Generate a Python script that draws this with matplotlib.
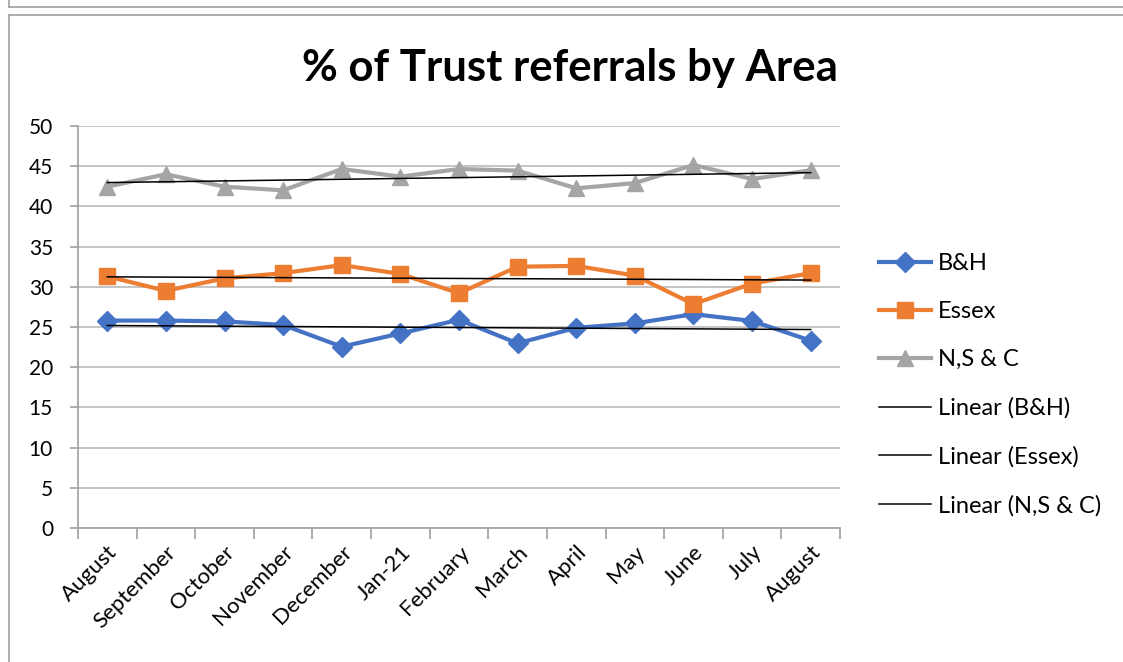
import numpy as np
import matplotlib
matplotlib.use("Agg")
import matplotlib.pyplot as plt
from matplotlib.lines import Line2D

plt.rcParams['font.family'] = ['Lato', 'DejaVu Sans']

months = ["August", "September", "October", "November", "December", "Jan-21",
          "February", "March", "April", "May", "June", "July", "August"]
bh = [25.8, 25.8, 25.7, 25.25, 22.55, 24.2, 25.9, 22.97, 24.9, 25.45, 26.6, 25.75, 23.3]
essex = [31.3, 29.5, 31.05, 31.7, 32.7, 31.6, 29.2, 32.5, 32.6, 31.4, 27.85, 30.4, 31.7]
nsc = [42.45, 44.0, 42.45, 42.0, 44.65, 43.7, 44.65, 44.45, 42.25, 42.9, 45.15, 43.4, 44.5]
series_names = ["B&H", "Essex", "N,S & C"]

colors = ["#4472C4", "#ED7D31", "#A5A5A5"]
markers = ["D", "s", "^"]
msizes = [10.5, 11, 11.5]

fig = plt.figure(figsize=(11.23, 6.62), dpi=100)
ax = fig.add_axes([78/1123, 1-528/662, (840-78)/1123, (528-126)/662])

x = np.arange(len(months))
handles = []
for data, name, c, m, ms in zip([bh, essex, nsc], series_names, colors, markers, msizes):
    h, = ax.plot(x, data, color=c, lw=3, marker=m, markersize=ms, label=name,
                 solid_joinstyle='round', zorder=3)
    handles.append(h)
for data, name in zip([bh, essex, nsc], series_names):
    coef = np.polyfit(x, data, 1)
    h, = ax.plot(x, np.polyval(coef, x), color='black', lw=1.1,
                 label=f"Linear ({name})", zorder=4)
    handles.append(h)

ax.set_xlim(-0.5, len(months) - 0.5)
ax.set_ylim(0, 50)
ax.set_yticks(np.arange(0, 51, 5))
ax.yaxis.grid(True, color='#BFBFBF', lw=1.3)
ax.set_axisbelow(True)
for s in ['top', 'right']:
    ax.spines[s].set_visible(False)
ax.spines['left'].set_color('#A6A6A6')
ax.spines['bottom'].set_color('#A6A6A6')
ax.spines['left'].set_linewidth(1.3)
ax.spines['bottom'].set_linewidth(1.3)

ax.set_xticks(x)
ax.set_xticklabels(months, rotation=45, ha='right', rotation_mode='anchor', fontsize=16)
ax.set_xticks(np.arange(-0.5, len(months), 1), minor=True)
ax.tick_params(axis='x', which='major', length=0, pad=10)
ax.tick_params(axis='x', which='minor', length=8, color='#A6A6A6', width=1.3)
ax.tick_params(axis='y', length=6, color='#A6A6A6', width=1.3, labelsize=15, pad=12)

fig.text(570/1123, 1-68/662, "% of Trust referrals by Area", ha='center', va='center',
         fontsize=31.5, fontweight='bold')

leg = fig.legend(handles=handles, loc='upper left', bbox_to_anchor=(879/1123, 1-253/662),
                 frameon=False, fontsize=17, handlelength=2.2, handletextpad=0.3,
                 labelspacing=1.15, borderaxespad=0, borderpad=0)

# frame lines of the surrounding layout
fig.add_artist(Line2D([9/1123, 1], [1-6.5/662, 1-6.5/662], color='#A0A0A0', lw=1.2))
fig.add_artist(Line2D([9/1123, 9/1123], [1, 1-6.5/662], color='#A0A0A0', lw=1.2))
fig.add_artist(Line2D([9/1123, 1], [1-15/662, 1-15/662], color='#A0A0A0', lw=1.2))
fig.add_artist(Line2D([9/1123, 9/1123], [0, 1-15/662], color='#A0A0A0', lw=1.2))

fig.savefig("out.png", dpi=100)
